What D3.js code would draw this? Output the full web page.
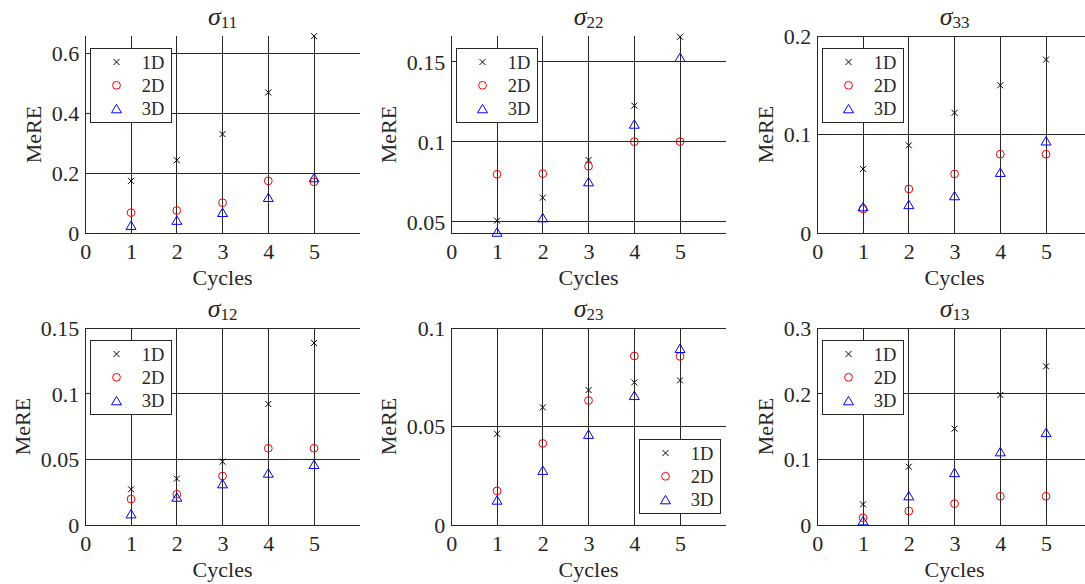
<!DOCTYPE html>
<html>
<head>
<meta charset="utf-8">
<script src="https://cdn.jsdelivr.net/npm/d3@7"></script>
<style>
  body { margin: 0; background: #fff; }
  svg { display: block; }
  .grid line, .axisLine { stroke: #262626; stroke-width: 1; shape-rendering: crispEdges; }
  .tick text { fill: #262626; font-size: 22px; }
  .label { fill: #262626; font-size: 22px; }
  .legendBox { fill: #fff; stroke: #262626; stroke-width: 1; shape-rendering: crispEdges; }
  .legendText { fill: #262626; font-size: 18.5px; }
</style>
</head>
<body>
<div id="chart"></div>
<script>
// MeRE vs cycles, one panel per stress component
const cycles = [1, 2, 3, 4, 5];
const seriesNames = ['1D', '2D', '3D'];
const components = ['11', '22', '33', '12', '23', '13'];

const mere1D = [
  [0.174, 0.243, 0.330, 0.469, 0.657],
  [0.0506, 0.065, 0.0885, 0.1225, 0.1655],
  [0.065, 0.089, 0.122, 0.150, 0.176],
  [0.0272, 0.0353, 0.0482, 0.0921, 0.1386],
  [0.0463, 0.0597, 0.0685, 0.0724, 0.0734],
  [0.0315, 0.0888, 0.1467, 0.198, 0.2416],
];
const mere2D = [
  [0.068, 0.075, 0.101, 0.174, 0.171],
  [0.0796, 0.080, 0.0846, 0.1, 0.1],
  [0.0244, 0.0447, 0.060, 0.080, 0.080],
  [0.0198, 0.0234, 0.0373, 0.0584, 0.0584],
  [0.0173, 0.0414, 0.0632, 0.0858, 0.0856],
  [0.011, 0.0213, 0.0325, 0.0437, 0.0437],
];
const mere3D = [
  [0.026, 0.043, 0.069, 0.119, 0.185],
  [0.0435, 0.0525, 0.075, 0.111, 0.1527],
  [0.0268, 0.029, 0.038, 0.0617, 0.0936],
  [0.0086, 0.0213, 0.0315, 0.0396, 0.0462],
  [0.0127, 0.0278, 0.0461, 0.0658, 0.0897],
  [0.0066, 0.0447, 0.080, 0.1117, 0.141],
];

const yDomains = [[0, 0.6575], [0.0429, 0.166], [0, 0.2], [0, 0.15], [0, 0.1], [0, 0.3]];
const yTicks = [
  [0, 0.2, 0.4, 0.6],
  [0.05, 0.1, 0.15],
  [0, 0.1, 0.2],
  [0, 0.05, 0.1, 0.15],
  [0, 0.05, 0.1],
  [0, 0.1, 0.2, 0.3],
];
const xTicks = [0, 1, 2, 3, 4, 5];
const legendCorner = ['nw', 'nw', 'nw', 'nw', 'se', 'nw'];

const width = 1085;
const height = 584;
const colLeft = [85.3, 451.3, 817.3];
const rowTop = [36, 328];
const plotW = 274.5;
const plotH = 197;

const seriesStyle = {
  '1D': { color: '#000', shape: 'x' },
  '2D': { color: '#ff0000', shape: 'o' },
  '3D': { color: '#0000ff', shape: '^' },
};

function markerPath(shape) {
  if (shape === 'x') return 'M-3,-3L3,3M-3,3L3,-3';
  if (shape === '^') return 'M0,-4.2L5,4.2L-5,4.2Z';
  return d3.arc()({ innerRadius: 0, outerRadius: 3.9, startAngle: 0, endAngle: 2 * Math.PI });
}

const svg = d3.select('#chart')
  .append('svg')
  .attr('width', width)
  .attr('height', height)
  .attr('font-family', '"Liberation Serif", "Times New Roman", serif');

const fmt = d3.format('~g');

components.forEach((comp, i) => {
  const left = colLeft[i % 3];
  const top = rowTop[Math.floor(i / 3)];
  const g = svg.append('g').attr('transform', `translate(${left},${top})`);

  const x = d3.scaleLinear().domain([0, 6]).range([0, plotW]);
  const y = d3.scaleLinear().domain(yDomains[i]).range([plotH, 0]);

  // grid
  const grid = g.append('g').classed('grid', true);
  grid.selectAll('line.v')
    .data(cycles)
    .enter().append('line')
    .attr('x1', d => x(d)).attr('x2', d => x(d))
    .attr('y1', 0).attr('y2', plotH);
  grid.selectAll('line.h')
    .data(yTicks[i])
    .enter().append('line')
    .attr('x1', 0).attr('x2', plotW)
    .attr('y1', d => y(d)).attr('y2', d => y(d));

  // axes (left + bottom only), styled by css instead of d3 defaults
  const yAxis = g.append('g')
    .call(d3.axisLeft(y).tickValues(yTicks[i]).tickSize(0).tickPadding(6).tickFormat(fmt))
    .attr('font-family', null).attr('font-size', null);
  yAxis.select('.domain').remove();
  yAxis.selectAll('text').attr('dy', '0.34em');

  const xAxis = g.append('g')
    .attr('transform', `translate(0,${plotH})`)
    .call(d3.axisBottom(x).tickValues(xTicks).tickSize(0).tickPadding(10).tickFormat(fmt))
    .attr('font-family', null).attr('font-size', null);
  xAxis.select('.domain').remove();

  g.append('line').classed('axisLine', true)
    .attr('x1', 0).attr('x2', 0).attr('y1', 0).attr('y2', plotH);
  g.append('line').classed('axisLine', true)
    .attr('x1', 0).attr('x2', plotW).attr('y1', plotH).attr('y2', plotH);

  // points
  const series = [mere1D[i], mere2D[i], mere3D[i]];
  seriesNames.forEach((name, s) => {
    const st = seriesStyle[name];
    g.selectAll(`path.m${s}`)
      .data(cycles.map((c, k) => ({ c, v: series[s][k] })))
      .enter().append('path')
      .classed(`m${s}`, true)
      .attr('d', markerPath(st.shape))
      .attr('transform', d => `translate(${x(d.c)},${y(d.v)})`)
      .attr('fill', 'none')
      .attr('stroke', st.color)
      .attr('stroke-width', 1);
  });

  // title
  const title = g.append('text')
    .classed('label', true)
    .attr('x', plotW / 2)
    .attr('y', -11.5)
    .attr('text-anchor', 'middle');
  title.append('tspan').attr('font-style', 'italic').attr('font-size', 26).text('σ');
  title.append('tspan').attr('font-size', 17).attr('dy', 3.5).text(comp);

  // axis labels
  g.append('text')
    .classed('label', true)
    .attr('x', plotW / 2)
    .attr('y', plotH + 52)
    .attr('text-anchor', 'middle')
    .text('Cycles');

  const tickLeft = d3.min(yAxis.selectAll('text').nodes(), n => n.getBBox().x);
  g.append('text')
    .classed('label', true)
    .attr('transform', `translate(${tickLeft - 10.5},${plotH / 2}) rotate(-90)`)
    .attr('text-anchor', 'middle')
    .text('MeRE');

  // legend
  const lw = 80.5, lh = 74.5;
  const lx = legendCorner[i] === 'nw' ? 5.5 : plotW - 5.5 - lw;
  const ly = legendCorner[i] === 'nw' ? 12 : plotH - 11.5 - lh;
  const lg = g.append('g').attr('transform', `translate(${lx},${ly})`);
  lg.append('rect').classed('legendBox', true)
    .attr('width', lw).attr('height', lh);
  const rows = lg.selectAll('g.row')
    .data(seriesNames)
    .enter().append('g')
    .classed('row', true)
    .attr('transform', (d, k) => `translate(0,${14 + k * 23.3})`);
  rows.append('path')
    .attr('d', d => markerPath(seriesStyle[d].shape))
    .attr('transform', 'translate(25.7,0)')
    .attr('fill', 'none')
    .attr('stroke', d => seriesStyle[d].color)
    .attr('stroke-width', 1);
  rows.append('text')
    .classed('legendText', true)
    .attr('x', 51)
    .attr('y', 6.5)
    .text(d => d);
});
</script>
</body>
</html>
